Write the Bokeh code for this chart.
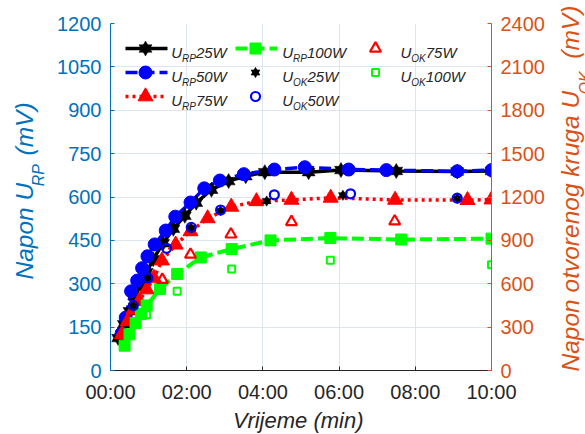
import numpy as np
from bokeh.plotting import figure
from bokeh.models import Range1d, LinearAxis, FixedTicker, Label
from bokeh.embed import file_html
from bokeh.resources import INLINE

# ---------------- data ----------------
x_ticks = [0, 2, 4, 6, 8, 10]
x_tick_labels = ["00:00", "02:00", "04:00", "06:00", "08:00", "10:00"]
y_left_ticks = [0, 150, 300, 450, 600, 750, 900, 1050, 1200]
y_right_ticks = [0, 300, 600, 900, 1200, 1500, 1800, 2100, 2400]

# U_RP (left axis, mV) vs time (min)
t_rp25 = [0.2, 0.35, 0.5, 0.65, 0.8, 0.95, 1.12, 1.38, 1.65, 1.95, 2.25, 2.65, 3.1, 3.55, 4.05, 5.2, 6.05, 7.5, 9.1, 10.0]
v_rp25 = [112, 160, 205, 255, 300, 340, 385, 440, 490, 535, 580, 625, 655, 672, 686, 686, 693, 690, 688, 690]

t_rp50 = [0.29, 0.4, 0.54, 0.7, 0.83, 0.97, 1.16, 1.45, 1.7, 2.1, 2.46, 2.87, 3.5, 4.3, 5.1, 6.25, 7.24, 9.1, 10.0]
v_rp50 = [128, 183, 274, 311, 354, 395, 436, 484, 532, 581, 630, 657, 679, 695, 703, 695, 693, 689, 693]

t_rp75 = [0.3, 0.45, 0.6, 0.75, 0.95, 1.14, 1.35, 1.71, 2.1, 2.55, 3.17, 3.83, 4.75, 5.78, 7.47, 9.37, 10.0]
v_rp75 = [125, 170, 210, 240, 280, 320, 380, 435, 481, 526, 566, 585, 590, 597, 590, 589, 591]

t_rp100 = [0.37, 0.5, 0.66, 0.8, 0.95, 1.3, 1.75, 2.37, 3.18, 4.2, 5.77, 7.63, 10.0]
v_rp100 = [86, 125, 164, 195, 225, 282, 334, 391, 420, 450, 458, 453, 456]

# U_OK (right axis, mV)
t_ok25 = [0.6, 0.98, 2.12, 2.89, 4.1, 6.1, 9.1]
v_ok25 = [445, 640, 985, 1105, 1172, 1212, 1190]

t_ok50 = [0.6, 0.98, 1.47, 2.12, 2.89, 4.3, 6.3, 9.1]
v_ok50 = [450, 640, 845, 990, 1110, 1215, 1222, 1192]

t_ok75 = [1.36, 2.1, 3.16, 4.75, 7.46]
v_ok75 = [628, 802, 942, 1028, 1032]

t_ok100 = [0.95, 1.75, 3.18, 5.77, 10.0]
v_ok100 = [386, 548, 702, 762, 732]

# ---------------- layout ----------------
FL, FT, FW, FH = 110, 22, 381, 347
BR, BB = 94, 63
XMIN, XMAX, YMIN, YMAX = 0, 10, 0, 1200

BLUE_AX = "#0072BD"
ORANGE_AX = "#D95319"
DARK = "#262626"
FONT = "Liberation Sans"

C25, C50, C75, C100 = "black", "#0000FF", "#FF0000", "#00FF00"

# empirical correction (in em) for labels living in side panels
SIDE_ALONG, SIDE_DOWN = 0.41, -0.33


def dx(sx):
    return XMIN + (sx - FL) / FW * (XMAX - XMIN)


def dy(sy):
    return YMIN + (FT + FH - sy) / FH * (YMAX - YMIN)


p = figure(frame_width=FW, frame_height=FH,
           x_range=Range1d(XMIN, XMAX), y_range=Range1d(YMIN, YMAX),
           output_backend="svg", toolbar_location=None,
           min_border_left=FL, min_border_right=BR,
           min_border_top=FT, min_border_bottom=BB)
p.extra_y_ranges = {"ok": Range1d(0, 2400)}
p.outline_line_color = None
p.background_fill_color = "white"
p.border_fill_color = "white"

# grid
p.xgrid.ticker = FixedTicker(ticks=x_ticks)
p.ygrid.ticker = FixedTicker(ticks=y_left_ticks)
for g in (p.xgrid[0], p.ygrid[0]):
    g.grid_line_color = "#dde5ee"
    g.grid_line_width = 1


def style_axis(ax, color, text_color):
    ax.axis_line_color = color
    ax.axis_line_width = 1
    ax.major_tick_line_color = color
    ax.major_tick_in = 4
    ax.major_tick_out = 0
    ax.minor_tick_line_color = None
    ax.major_label_text_color = text_color
    ax.major_label_text_font = FONT
    ax.major_label_text_font_size = "20px"


xa = p.xaxis[0]
xa.ticker = FixedTicker(ticks=x_ticks)
xa.major_label_overrides = {t: s for t, s in zip(x_ticks, x_tick_labels)}
style_axis(xa, DARK, DARK)
xa.major_label_standoff = 10

ya = p.yaxis[0]
ya.ticker = FixedTicker(ticks=y_left_ticks)
style_axis(ya, BLUE_AX, BLUE_AX)
ya.major_label_standoff = 9

yr = LinearAxis(y_range_name="ok", ticker=FixedTicker(ticks=y_right_ticks))
style_axis(yr, ORANGE_AX, ORANGE_AX)
yr.major_label_standoff = 9
p.add_layout(yr, "right")


# ---------------- marker helpers ----------------
def hexagram(xs, ys, size, color, rn="default"):
    for m in ("triangle", "inverted_triangle"):
        p.scatter(xs, ys, marker=m, size=size, fill_color=color, line_color=color,
                  line_width=0.5, y_range_name=rn)


LW = 3.5
line_styles = {
    "25": dict(line_color=C25, line_width=LW, line_dash="solid"),
    "50": dict(line_color=C50, line_width=LW, line_dash="12 5"),
    "75": dict(line_color=C75, line_width=LW, line_dash="3 4"),
    "100": dict(line_color=C100, line_width=4, line_dash="12 5"),
}


def mk_rp(key, xs, ys):
    if key == "25":
        hexagram(xs, ys, 13, C25)
    elif key == "50":
        p.scatter(xs, ys, marker="circle", size=13, fill_color=C50, line_color=C50)
    elif key == "75":
        p.scatter(xs, ys, marker="triangle", size=15, fill_color=C75, line_color=C75)
    else:
        p.scatter(xs, ys, marker="square", size=11, fill_color=C100, line_color=C100)


def mk_ok(key, xs, ys, rn="ok"):
    if key == "25":
        hexagram(xs, ys, 9, C25, rn)
    elif key == "50":
        p.scatter(xs, ys, marker="circle", size=9, fill_color=None, line_color=C50,
                  line_width=2.2, y_range_name=rn)
    elif key == "75":
        p.scatter(xs, ys, marker="triangle", size=11, fill_color=None, line_color=C75,
                  line_width=2.2, y_range_name=rn)
    else:
        p.scatter(xs, ys, marker="square", size=7, fill_color=None, line_color=C100,
                  line_width=2, y_range_name=rn)


rp_series = [("25", t_rp25, v_rp25), ("50", t_rp50, v_rp50),
             ("75", t_rp75, v_rp75), ("100", t_rp100, v_rp100)]
for key, xs, ys in rp_series:
    p.line(xs, ys, **line_styles[key])
for key, xs, ys in rp_series:
    mk_rp(key, xs, ys)

ok_series = [("25", t_ok25, v_ok25), ("50", t_ok50, v_ok50),
             ("75", t_ok75, v_ok75), ("100", t_ok100, v_ok100)]
for key, xs, ys in ok_series:
    mk_ok(key, xs, ys)

# ---------------- text helpers ----------------
W = {" ": 278, "\u00a0": 278, "\u2009": 200, "(": 333, ")": 333, "N": 722, "a": 556,
     "p": 556, "o": 556, "n": 556, "U": 722, "R": 722, "P": 667, "m": 833, "V": 667,
     "O": 778, "K": 667, "t": 278, "v": 500, "r": 333, "e": 556, "g": 556, "k": 500,
     "u": 556, "W": 944}


def tw(s, size):
    return sum(W.get(c, 556) for c in s) * size / 1000.0


def label(x, y, text, size, color, angle=0.0, place=None):
    if place is not None:
        a, d = SIDE_ALONG * size, SIDE_DOWN * size
        if angle == 0.0:
            x, y = x + a, y + d
        else:  # rotated counter-clockwise by 90 degrees
            x, y = x + d, y - a
    lab = Label(x=dx(x), y=dy(y), text=text, text_font=FONT, text_font_style="italic",
                text_font_size=f"{size}px", text_color=color, angle=angle,
                text_align="left", text_baseline="alphabetic")
    if place is None:
        p.add_layout(lab)
    else:
        p.add_layout(lab, place)


# ---------------- legend (drawn manually for subscripts) ----------------
rows = [47, 71, 95]
cols = [(145, 170.7), (255, 281.7), (375, 400.0)]
legend_items = [
    (0, 0, "rp", "25", "RP", "25W"),
    (0, 1, "rp", "50", "RP", "50W"),
    (0, 2, "rp", "75", "RP", "75W"),
    (1, 0, "rp", "100", "RP", "100W"),
    (1, 1, "ok", "25", "OK", "25W"),
    (1, 2, "ok", "50", "OK", "50W"),
    (2, 0, "ok", "75", "OK", "75W"),
    (2, 1, "ok", "100", "OK", "100W"),
]
for ci, ri, kind, key, sub, tail in legend_items:
    mx, tx = cols[ci]
    my = rows[ri]
    if kind == "rp":
        p.line([dx(mx - 20), dx(mx + 22)], [dy(my), dy(my)], **line_styles[key])
        mk_rp(key, [dx(mx)], [dy(my)])
    else:
        mk_ok(key, [dx(mx)], [dy(my)], rn="default")
    by = my + 4
    label(tx, by, "U", 15, DARK)
    sx = tx + tw("U", 15)
    label(sx, by + 6.3, sub, 10, DARK)
    sx += tw(sub, 10)
    label(sx, by, tail, 15, DARK)

# ---------------- axis titles ----------------
label(300 - tw("Vrijeme (min)", 22) / 2, 426, "Vrijeme (min)", 22, DARK, place="below")


def vtitle(base_x, start_y, main, gap, sub, tail, color, place_main, place_sub,
           fs=24.5, ss=16, drop=11.7):
    label(base_x, start_y, main + gap + tail, fs, color, np.pi / 2, place_main)
    ys = start_y - tw(main, fs)
    label(base_x + drop, ys, sub, ss, color, np.pi / 2, place_sub)


NB = "\u00a0"
vtitle(31.7, 288.0, "Napon U", NB * 3, "RP", " (mV)", BLUE_AX, "left", "left")
vtitle(578.5, 380.0, "Napon otvorenog kruga U", NB * 3 + "\u2009", "OK", " (mV)",
       ORANGE_AX, "right", "above")

open("out.html", "w").write(file_html(p, INLINE))
